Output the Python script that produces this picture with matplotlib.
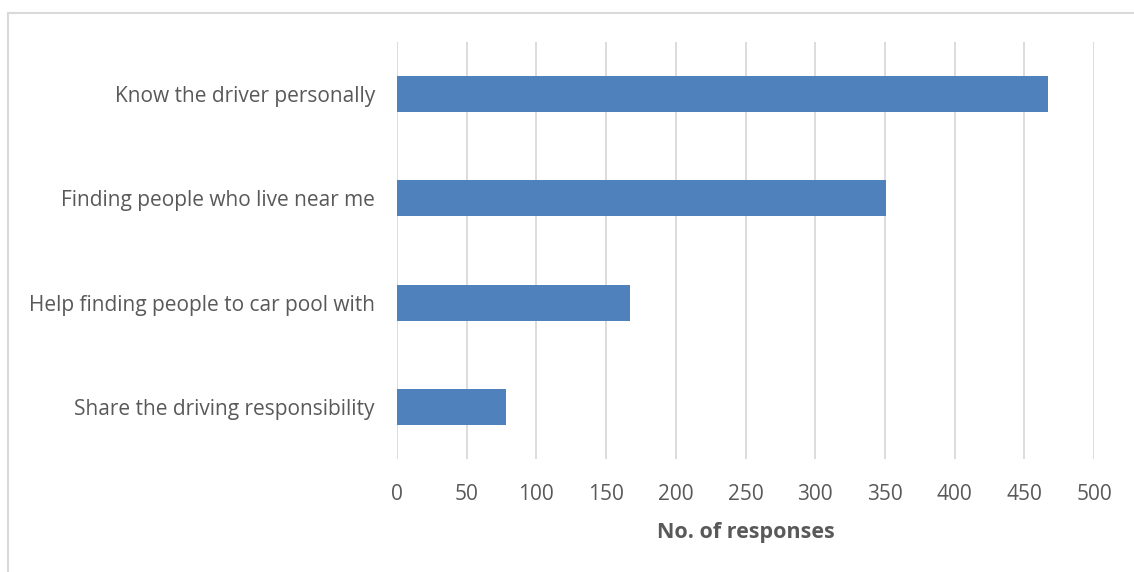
import matplotlib
matplotlib.use("Agg")
import matplotlib.pyplot as plt
from matplotlib.lines import Line2D

# data
categories = ['Know the driver personally',
              'Finding people who live near me',
              'Help finding people to car pool with',
              'Share the driving responsibility']
responses = [467, 351, 167, 78]
xticks = [0, 50, 100, 150, 200, 250, 300, 350, 400, 450, 500]

plt.rcParams['font.family'] = ['Open Sans', 'DejaVu Sans']
text_col = '#595959'

fig = plt.figure(figsize=(11.34, 5.72), dpi=100)
# chart frame, cropped on the right and bottom
bx, by = 7.5 / 1134, 1 - 12.5 / 572
fig.add_artist(Line2D([bx, 1], [by, by], transform=fig.transFigure,
                      color='#D9D9D9', linewidth=1.5))
fig.add_artist(Line2D([bx, bx], [0, by], transform=fig.transFigure,
                      color='#D9D9D9', linewidth=1.5))

ax = fig.add_axes([397/1134, 1 - 459/572, 697/1134, 417/572])

ypos = list(range(len(categories)))[::-1]
ax.barh(ypos, responses, height=0.345, color='#4F81BD', zorder=3)

ax.set_xlim(0, 500)
ax.set_ylim(-0.5, len(categories) - 0.5)
ax.set_xticks(xticks)
ax.set_yticks(ypos)
ax.set_yticklabels(categories)
ax.grid(axis='x', color='#D9D9D9', linewidth=1.3, zorder=0)
for s in ax.spines.values():
    s.set_visible(False)
ax.tick_params(axis='both', length=0, colors=text_col, labelsize=15)
ax.tick_params(axis='y', pad=16)
ax.tick_params(axis='x', pad=18)
ax.set_xlabel('No. of responses', fontsize=15.5, fontweight='bold',
              color=text_col, labelpad=12)

fig.savefig('out.png', dpi=100)
